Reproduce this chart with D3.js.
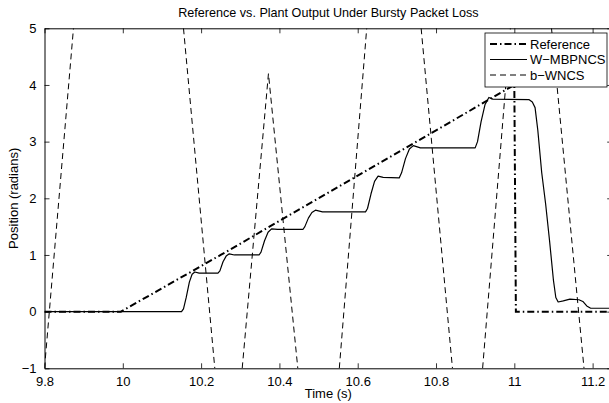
<!DOCTYPE html>
<html><head><meta charset="utf-8">
<script src="https://cdn.jsdelivr.net/npm/d3@7"></script>
<style>
body{margin:0;background:#fff}
svg{display:block}
text{font-family:"Liberation Sans",Arial,Helvetica,sans-serif;fill:#000}
</style>
</head><body>
<svg id="c" width="609" height="403"></svg>
<script>
// ---- data ----
const xTickValues = [9.8, 10.0, 10.2, 10.4, 10.6, 10.8, 11.0, 11.2];
const yTickValues = [-1, 0, 1, 2, 3, 4, 5];
const seriesNames = ["Reference", "W\u2212MBPNCS", "b\u2212WNCS"];

// Reference (dash-dot)
const refTime  = [9.8, 9.995, 10.25, 10.5, 10.75, 11.0, 11.004, 11.25];
const refValue = [0,   0,     1.0,   2.0,  3.0,   4.0,  0,      0];

// W-MBPNCS (solid)
const wTime  = [9.8, 10.150, 10.155, 10.162, 10.170, 10.177, 10.184, 10.195, 10.243, 10.248, 10.256, 10.264, 10.272, 10.285,
                10.348, 10.353, 10.362, 10.371, 10.380, 10.395, 10.460, 10.465, 10.474, 10.483, 10.492, 10.510,
                10.620, 10.625, 10.634, 10.643, 10.652, 10.665, 10.706, 10.712, 10.722, 10.732, 10.742, 10.760,
                10.900, 10.906, 10.915, 10.925, 10.935, 10.945, 11.038, 11.046, 11.053, 11.060, 11.070, 11.080,
                11.090, 11.100, 11.106, 11.112, 11.125, 11.142, 11.165, 11.175, 11.185, 11.195, 11.25];
const wValue = [0, 0, 0.05, 0.25, 0.52, 0.66, 0.70, 0.68, 0.68, 0.72, 0.88, 0.98, 1.02, 1.00,
                1.00, 1.05, 1.25, 1.40, 1.46, 1.45, 1.45, 1.50, 1.65, 1.75, 1.79, 1.76,
                1.76, 1.82, 2.08, 2.30, 2.39, 2.37, 2.36, 2.45, 2.70, 2.87, 2.93, 2.89,
                2.89, 3.00, 3.35, 3.65, 3.78, 3.75, 3.74, 3.70, 3.60, 3.20, 2.45, 1.90,
                1.25, 0.55, 0.25, 0.17, 0.19, 0.22, 0.21, 0.18, 0.10, 0.06, 0.06];

// b-WNCS (dashed) - visible pieces between the axis limits (null = leaves the axes)
const bTime  = [9.8, 9.874, null, 10.155, 10.235, null, 10.305, 10.372, 10.447, null, 10.553, 10.623, null,
                10.762, 10.842, null, 10.919, 10.990, null, 11.095, 11.178];
const bValue = [-1, 5, null, 5, -1, null, -1, 4.2, -1, null, -1, 5, null,
                5, -1, null, -1, 5, null, 5, -1];

// ---- drawing ----
const svg = d3.select("#c");
const x = d3.scaleLinear().domain([9.8, 11.25]).range([44.5, 612.2]);
const y = d3.scaleLinear().domain([-1, 5]).range([368.3, 28.3]);
const X0 = x.range()[0], X1 = x.range()[1], Y0 = y.range()[0], Y1 = y.range()[1];

svg.append("defs").append("clipPath").attr("id","clip")
  .append("rect").attr("x",X0).attr("y",Y1).attr("width",X1-X0).attr("height",Y0-Y1);

const fmtTick = v => v < 0 ? "\u2212" + Math.abs(v) : String(+v.toFixed(1));

// axes (ticks inward, box)
const axB = d3.axisBottom(x).tickValues(xTickValues).tickSizeInner(-5).tickSizeOuter(0).tickPadding(8).tickFormat(fmtTick);
const axT = d3.axisTop(x).tickValues(xTickValues).tickSizeInner(-5).tickSizeOuter(0).tickFormat("");
const axL = d3.axisLeft(y).tickValues(yTickValues).tickSizeInner(-5).tickSizeOuter(0).tickPadding(8).tickFormat(fmtTick);
const axR = d3.axisRight(y).tickValues(yTickValues).tickSizeInner(-5).tickSizeOuter(0).tickFormat("");

function styleAxis(g){
  g.select(".domain").attr("stroke","#000").attr("stroke-width",1);
  g.selectAll(".tick line").attr("stroke","#000").attr("stroke-width",0.8);
  g.selectAll(".tick text").attr("font-size",13).attr("font-family","Liberation Sans, Arial, sans-serif").attr("fill","#000");
}
svg.append("g").attr("transform",`translate(0,${Y0})`).call(axB).call(styleAxis);
svg.append("g").attr("transform",`translate(0,${Y1})`).call(axT).call(styleAxis);
svg.append("g").attr("transform",`translate(${X0},0)`).call(axL).call(styleAxis);
svg.append("g").attr("transform",`translate(${X1},0)`).call(axR).call(styleAxis);

// lines
const plot = svg.append("g").attr("clip-path","url(#clip)");
function pts(ts, vs){ return ts.map((t,i)=>({t, v: vs[i]})); }
const line = d3.line().defined(d => d.t !== null && d.v !== null).x(d => x(d.t)).y(d => y(d.v));

plot.append("path").datum(pts(bTime,bValue)).attr("d",line)
  .attr("fill","none").attr("stroke","#000").attr("stroke-width",1).attr("stroke-dasharray","6,4");
plot.append("path").datum(pts(wTime,wValue)).attr("d",line)
  .attr("fill","none").attr("stroke","#000").attr("stroke-width",1.2).attr("stroke-linejoin","round");
plot.append("path").datum(pts(refTime,refValue)).attr("d",line)
  .attr("fill","none").attr("stroke","#000").attr("stroke-width",2).attr("stroke-dasharray","7,3,1.5,3");

// title and labels
svg.append("text").attr("x",(X0+X1)/2).attr("y",17).attr("text-anchor","middle").attr("font-size",12.6)
  .text("Reference vs. Plant Output Under Bursty Packet Loss");
svg.append("text").attr("x",(X0+X1)/2).attr("y",398).attr("text-anchor","middle").attr("font-size",13)
  .text("Time (s)");
svg.append("text").attr("transform",`translate(18,${(Y0+Y1)/2}) rotate(-90)`).attr("text-anchor","middle").attr("font-size",13)
  .text("Position (radians)");

// legend
const lg = svg.append("g");
lg.append("rect").attr("x",485).attr("y",33).attr("width",122).attr("height",54)
  .attr("fill","#fff").attr("stroke","#000").attr("stroke-width",0.8);
const styles = [
  {w:2, dash:"7,3,1.5,3"},
  {w:1.2, dash:null},
  {w:1, dash:"6,4"}
];
seriesNames.forEach((name,i)=>{
  const yy = 44 + i*15.5;
  const l = lg.append("line").attr("x1",490).attr("x2",527).attr("y1",yy).attr("y2",yy)
    .attr("stroke","#000").attr("stroke-width",styles[i].w);
  if(styles[i].dash) l.attr("stroke-dasharray",styles[i].dash);
  lg.append("text").attr("x",530).attr("y",yy+4.5).attr("font-size",13).text(name);
});
</script>
</body></html>
